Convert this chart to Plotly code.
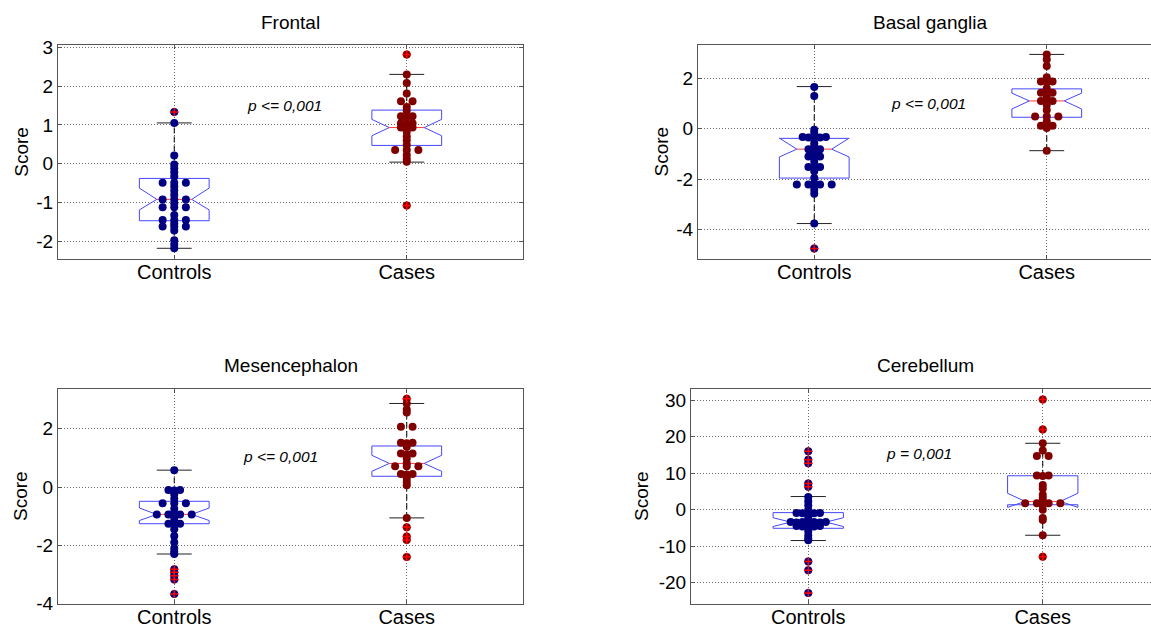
import plotly.graph_objects as go

# ---------------- data ----------------
categories = ["Controls", "Cases"]
titles = ["Frontal", "Basal ganglia", "Mesencephalon", "Cerebellum"]
p_labels = ["p <= 0,001", "p <= 0,001", "p <= 0,001", "p = 0,001"]
y_label = "Score"

frontal_controls = [1.33, 1.05, 0.21, -0.02, -0.12, -0.22, -0.33,
                    -0.49, -0.49, -0.49, -0.59, -0.70, -0.81,
                    -0.92, -0.92, -0.92, -1.02, -1.12, -1.12, -1.12,
                    -1.32, -1.45, -1.45, -1.45, -1.54, -1.62, -1.62, -1.62,
                    -1.72, -1.97, -2.08, -2.18]
frontal_cases = [2.81, 2.30, 2.08, 1.81, 1.61, 1.61, 1.46, 1.36,
                 1.22, 1.22, 1.18, 1.04, 1.04, 1.00, 0.93, 0.93,
                 0.82, 0.70, 0.60, 0.48, 0.35, 0.35, 0.35, 0.22, 0.12, 0.05, -1.08]

basal_controls = [1.66, 1.31, -0.04, -0.17, -0.33, -0.33, -0.33, -0.35, -0.35,
                  -0.57, -0.70, -0.81, -0.81, -0.83, -0.97, -1.10, -1.10, -1.12,
                  -1.30, -1.52, -1.52, -1.50, -1.69, -1.96,
                  -2.22, -2.22, -2.22, -2.22, -2.20, -2.42, -2.58, -3.77, -4.76]
basal_cases = [2.96, 2.76, 2.50, 2.05, 1.88, 1.88, 1.86, 1.61, 1.44, 1.44, 1.42,
               1.28, 1.11, 1.11, 1.10, 0.95, 0.75, 0.49, 0.49, 0.49, 0.29,
               0.12, 0.12, 0.10, 0.03, -0.87]

mesen_controls = [0.58, -0.10, -0.10, -0.12, -0.25, -0.40, -0.56, -0.56, -0.56,
                  -0.75, -0.94, -0.94, -0.94, -0.94, -0.92, -1.09,
                  -1.26, -1.26, -1.24, -1.45, -1.68, -1.90, -2.10, -2.22, -2.30,
                  -2.82, -2.93, -3.05, -3.18, -3.67]
mesen_cases = [3.03, 2.87, 2.66, 2.56, 2.07, 2.07, 1.52, 1.52, 1.50, 1.38,
               1.15, 1.15, 1.13, 0.98, 0.82, 0.71, 0.71, 0.71, 0.45, 0.45, 0.43,
               0.30, 0.17, 0.06, -1.06, -1.38, -1.70, -1.82, -2.40]

cereb_controls = [16.0, 13.7, 12.7, 7.2, 6.3, 3.5, 2.3, 1.2, 0.0,
                  -0.9, -0.9, -0.9, -1.0, -1.0, -2.2,
                  -3.4, -3.4, -3.4, -3.4, -3.5, -3.5, -3.5,
                  -4.5, -4.5, -4.5, -4.6, -4.6, -5.9, -7.0, -7.9, -8.4,
                  -14.2, -16.6, -22.8]
cereb_cases = [30.2, 22.0, 18.2, 16.2, 14.7, 14.7, 9.4, 9.4, 9.2, 6.8, 5.8,
               4.1, 3.2, 2.3, 1.8, 1.8, 1.8, 1.8, 1.6, 1.2, 0.0, -2.3, -2.8,
               -7.0, -12.9]

# box summaries: q1, median, q3, notch low, notch high, whisker low, whisker high
frontal_controls_box = [-1.47, -0.92, -0.38, -1.19, -0.63, -2.18, 1.05]
frontal_cases_box = [0.47, 0.93, 1.38, 0.72, 1.14, 0.04, 2.30]
basal_controls_box = [-1.96, -0.81, -0.38, -1.12, -0.37, -3.77, 1.68]
basal_cases_box = [0.46, 1.11, 1.59, 0.79, 1.42, -0.87, 2.96]
mesen_controls_box = [-1.26, -0.94, -0.49, -1.15, -0.72, -2.30, 0.58]
mesen_cases_box = [0.37, 0.81, 1.41, 0.54, 1.09, -1.06, 2.87]
cereb_controls_box = [-5.1, -3.4, -0.8, -4.6, -2.2, -8.45, 3.6]
cereb_cases_box = [1.36, 2.27, 9.3, 0.64, 4.5, -7.0, 18.2]

frontal_ticks = [-2, -1, 0, 1, 2, 3]
basal_ticks = [-4, -2, 0, 2]
mesen_ticks = [-4, -2, 0, 2]
cereb_ticks = [-20, -10, 0, 10, 20, 30]

# ---------------- layout / style ----------------
W, H = 1151, 627
FONT = "Liberation Sans, Arial, sans-serif"
NAVY = "#000080"
DARKRED = "#800000"
BOX_BLUE = "rgb(70,70,255)"
BORDER = "#555555"
GRID = "rgba(90,90,90,0.9)"
BOX_HALF = 0.15
SLOT = 0.05

panels = [
    dict(data=(frontal_controls, frontal_cases), boxes=(frontal_controls_box, frontal_cases_box),
         ticks=frontal_ticks, yrange=[-2.456, 3.057], xpx=(58, 523), ypx=(45, 259),
         ptxt=(1.475, 1.486), score_x=20.7, right=False),
    dict(data=(basal_controls, basal_cases), boxes=(basal_controls_box, basal_cases_box),
         ticks=basal_ticks, yrange=[-5.18, 3.335], xpx=(698, 1163), ypx=(45, 259),
         ptxt=(1.49, 1.007), score_x=660.5, right=True),
    dict(data=(mesen_controls, mesen_cases), boxes=(mesen_controls_box, mesen_cases_box),
         ticks=mesen_ticks, yrange=[-4.0, 3.367], xpx=(58, 523), ypx=(389, 603.5),
         ptxt=(1.455, 1.047), score_x=20.7, right=False),
    dict(data=(cereb_controls, cereb_cases), boxes=(cereb_controls_box, cereb_cases_box),
         ticks=cereb_ticks, yrange=[-25.7, 33.07], xpx=(691, 1160), ypx=(389, 603.5),
         ptxt=(1.474, 15.3), score_x=641.7, right=True),
]


def swarm_offsets(vals, slot):
    groups = {}
    for i, v in enumerate(vals):
        groups.setdefault(round(v, 4), []).append(i)
    off = [0.0] * len(vals)
    for idx in groups.values():
        n = len(idx)
        for j, i in enumerate(idx):
            off[i] = (j - (n - 1) / 2) * slot
    return off


fig = go.Figure()
annotations = []

for k, p in enumerate(panels):
    sfx = "" if k == 0 else str(k + 1)
    xa, ya = "x" + sfx, "y" + sfx
    x0px, x1px = p["xpx"]
    y0px, y1px = p["ypx"]
    x1_vis = min(x1px, W)
    xr1 = 0.5 + 2.0 * (x1_vis - x0px) / (x1px - x0px)
    xdom = [x0px / W, x1_vis / W]
    ydom = [(H - y1px) / H, (H - y0px) / H]

    for g, (vals, box) in enumerate(zip(p["data"], p["boxes"])):
        xc = g + 1
        q1, med, q3, nlo, nhi, wlo, whi = box
        colr = NAVY if g == 0 else DARKRED
        fig.add_trace(go.Scatter(x=[xc, xc, None, xc, xc], y=[q3, whi, None, q1, wlo],
                                 mode="lines", line=dict(color="black", width=1, dash="6px,3px"),
                                 xaxis=xa, yaxis=ya, hoverinfo="skip", showlegend=False))
        hw = BOX_HALF / 2
        fig.add_trace(go.Scatter(x=[xc - hw, xc + hw, None, xc - hw, xc + hw],
                                 y=[whi, whi, None, wlo, wlo],
                                 mode="lines", line=dict(color="#222222", width=1),
                                 xaxis=xa, yaxis=ya, hoverinfo="skip", showlegend=False))
        w = BOX_HALF
        bx = [xc - w, xc - w, xc - w / 2, xc - w, xc - w, xc + w, xc + w, xc + w / 2, xc + w, xc + w, xc - w]
        by = [q1, nlo, med, nhi, q3, q3, nhi, med, nlo, q1, q1]
        fig.add_trace(go.Scatter(x=bx, y=by, mode="lines", line=dict(color=BOX_BLUE, width=1),
                                 xaxis=xa, yaxis=ya, hoverinfo="skip", showlegend=False))
        fig.add_trace(go.Scatter(x=[xc - w / 2, xc + w / 2], y=[med, med], mode="lines",
                                 line=dict(color="rgb(255,60,60)", width=1),
                                 xaxis=xa, yaxis=ya, hoverinfo="skip", showlegend=False))
        offs = swarm_offsets(vals, SLOT)
        fig.add_trace(go.Scatter(x=[xc + o for o in offs], y=vals, mode="markers",
                                 marker=dict(color=colr, size=8, line=dict(width=0)),
                                 xaxis=xa, yaxis=ya, hoverinfo="skip", showlegend=False))
        ox = [xc + o for o, v in zip(offs, vals) if v > whi + 1e-9 or v < wlo - 1e-9]
        oy = [v for v in vals if v > whi + 1e-9 or v < wlo - 1e-9]
        if oy:
            fig.add_trace(go.Scatter(x=ox, y=oy, mode="markers",
                                     marker=dict(symbol="cross-thin", size=6, color="red",
                                                 line=dict(color="red", width=1.5)),
                                     xaxis=xa, yaxis=ya, hoverinfo="skip", showlegend=False))

    axis_common = dict(showline=True, linecolor=BORDER, linewidth=1, ticks="inside", ticklen=4,
                       tickcolor=BORDER, showgrid=True, gridcolor=GRID, griddash="1px,2px",
                       gridwidth=1, zeroline=False, fixedrange=True, automargin=False)
    fig.layout["xaxis" + sfx] = dict(domain=xdom, range=[0.5, xr1], anchor=ya,
                                     tickmode="array", tickvals=[1, 2], ticktext=categories,
                                     tickfont=dict(family=FONT, size=20, color="black"),
                                     ticklabelstandoff=-5,
                                     mirror="ticks", **axis_common)
    fig.layout["yaxis" + sfx] = dict(domain=ydom, range=p["yrange"], anchor=xa,
                                     tickmode="array", tickvals=p["ticks"],
                                     ticktext=[str(t) for t in p["ticks"]],
                                     tickfont=dict(family=FONT, size=19, color="black"),
                                     mirror=(False if p["right"] else "ticks"), **axis_common)

    annotations.append(dict(text=titles[k], xref=xa, x=1.5, yref="paper",
                            y=(H - (y0px - 23)) / H, xanchor="center", yanchor="middle",
                            showarrow=False, font=dict(family=FONT, size=19, color="black")))
    annotations.append(dict(text=y_label, xref="paper", x=p["score_x"] / W, yref="paper",
                            y=(H - (y0px + y1px) / 2) / H, xanchor="center", yanchor="middle",
                            textangle=-90, showarrow=False,
                            font=dict(family=FONT, size=19, color="black")))
    annotations.append(dict(text="<i>" + p_labels[k] + "</i>", xref=xa, yref=ya,
                            x=p["ptxt"][0], y=p["ptxt"][1], xanchor="center", yanchor="middle",
                            showarrow=False, font=dict(family=FONT, size=15.5, color="black")))

fig.update_layout(width=W, height=H, margin=dict(l=0, r=0, t=0, b=0),
                  paper_bgcolor="white", plot_bgcolor="white",
                  annotations=annotations, showlegend=False)

fig.write_html("out.html", config={"displayModeBar": False},
               post_script="document.body.style.margin='0px';document.body.style.overflow='hidden';")
